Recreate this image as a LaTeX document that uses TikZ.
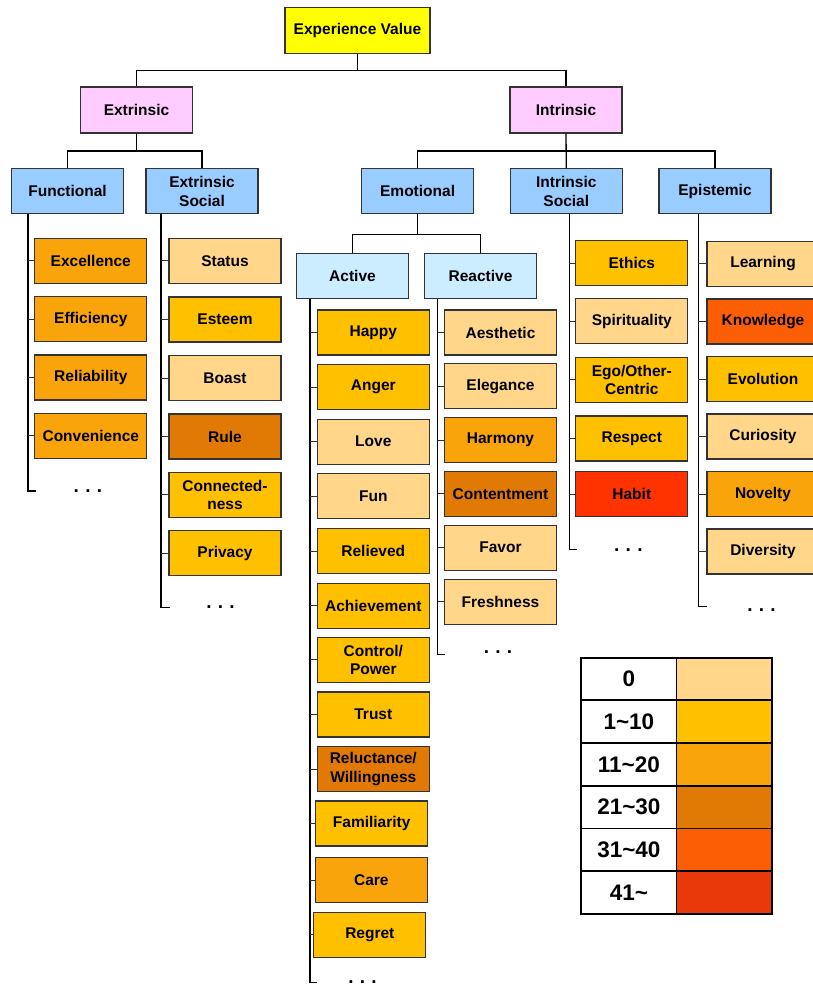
\documentclass[tikz,border=0pt]{standalone}
\usepackage{fontspec}
\setmainfont{Liberation Sans}
\usetikzlibrary{calc}
\definecolor{c0}{HTML}{FFD68A}
\definecolor{c1}{HTML}{FFC000}
\definecolor{c2}{HTML}{F9A40B}
\definecolor{c3}{HTML}{E07A05}
\definecolor{c4}{HTML}{FC5E06}
\definecolor{c5}{HTML}{E9380A}
\definecolor{chabit}{HTML}{FF3300}
\definecolor{cyel}{HTML}{FFFF00}
\definecolor{cpink}{HTML}{FFCCFF}
\definecolor{cblue}{HTML}{99CCFF}
\definecolor{clblue}{HTML}{CCECFF}
\tikzset{
 box/.style={draw=black!80, line width=1.2pt, minimum width=112pt, minimum height=45pt, inner sep=1pt, align=center, font=\bfseries\fontsize{15.5}{18.5}\selectfont},
 conn/.style={line width=1.3pt, draw=black},
 tick/.style={line width=1pt, draw=black!80},
 dotsnode/.style={inner sep=0pt, font=\bfseries\fontsize{19}{20}\selectfont},
 leg/.style={draw=black, line width=1.8pt, minimum width=95.5pt, minimum height=42.7pt, inner sep=0pt, font=\bfseries\fontsize{22.5}{24}\selectfont},
}
\begin{document}
\begin{tikzpicture}[x=1pt,y=-1pt]
\useasboundingbox (0,0) rectangle (813,987);
% top levels
\node[box, fill=cyel, minimum width=145pt, minimum height=46pt] (EV) at (357.5,30.5) {Experience Value};
\node[box, fill=cpink, minimum height=46pt] (Ext) at (136.5,110) {Extrinsic};
\node[box, fill=cpink, minimum height=46pt] (Int) at (566,110) {Intrinsic};
\node[box, fill=cblue] (Func) at (67.6,191.3) {Functional};
\node[box, fill=cblue] (ExS) at (202,191.3) {Extrinsic\\Social};
\node[box, fill=cblue] (Emo) at (417.6,191.3) {Emotional};
\node[box, fill=cblue] (InS) at (566.3,191.3) {Intrinsic\\Social};
\node[box, fill=cblue] (Epi) at (715,191.3) {Epistemic};
\node[box, fill=clblue] (Act) at (352.5,275.8) {Active};
\node[box, fill=clblue] (Rea) at (480.5,275.8) {Reactive};
% connectors of the hierarchy
\draw[conn] (EV.south) -- ++(0,16.5) -| (Ext.north);
\draw[conn] (EV.south) ++(0,16.5) -| (Int.north);
\draw[conn] (Ext.south) -- ++(0,17.5) -| (Func.north);
\draw[conn] (Ext.south) ++(0,17.5) -| (ExS.north);
\draw[conn] (Int.south) -- (InS.north);
\draw[conn] (Int.south) ++(0,17.5) -| (Emo.north);
\draw[conn] (Int.south) ++(0,17.5) -| (Epi.north);
\draw[conn] (Emo.south) -- ++(0,20) -| (Act.north);
\draw[conn] (Emo.south) ++(0,20) -| (Rea.north);
% Functional children
\node[box, fill=c2] (f1) at (90.8,260.8) {Excellence};
\node[box, fill=c2] (f2) at (90.8,319.2) {Efficiency};
\node[box, fill=c2] (f3) at (90.8,377.5) {Reliability};
\node[box, fill=c2] (f4) at (90.8,435.8) {Convenience};
\node[dotsnode] (fd) at (88,491) {.\,\,.\,\,.};
% Extrinsic social children
\node[box, fill=c0] (s1) at (225,260.8) {Status};
\node[box, fill=c1] (s2) at (225,319.5) {Esteem};
\node[box, fill=c0] (s3) at (225,378) {Boast};
\node[box, fill=c3] (s4) at (225,436.5) {Rule};
\node[box, fill=c1] (s5) at (225,494.8) {Connected-\\ness};
\node[box, fill=c1] (s6) at (225,553.3) {Privacy};
\node[dotsnode] (sd) at (220.5,607) {.\,\,.\,\,.};
% Active children
\node[box, fill=c1] (a1) at (373.3,332.5) {Happy};
\node[box, fill=c1] (a2) at (373.3,387) {Anger};
\node[box, fill=c0] (a3) at (373.3,441.7) {Love};
\node[box, fill=c0] (a4) at (373.3,496) {Fun};
\node[box, fill=c1] (a5) at (373.3,551) {Relieved};
\node[box, fill=c1] (a6) at (373.3,605.7) {Achievement};
\node[box, fill=c1] (a7) at (373.3,659.8) {Control/\\Power};
\node[box, fill=c1] (a8) at (373.3,714.5) {Trust};
\node[box, fill=c3] (a9) at (373.3,769.2) {Reluctance/\\Willingness};
\node[box, fill=c1] (a10) at (371.7,823.5) {Familiarity};
\node[box, fill=c2] (a11) at (371.3,880.2) {Care};
\node[box, fill=c1] (a12) at (369.8,934.8) {Regret};
\node[dotsnode] (ad) at (362.5,982) {.\,\,.\,\,.};
% Reactive children
\node[box, fill=c0] (r1) at (500.5,332.5) {Aesthetic};
\node[box, fill=c0] (r2) at (500.5,386.3) {Elegance};
\node[box, fill=c2] (r3) at (500.5,440) {Harmony};
\node[box, fill=c3] (r4) at (500.5,493.7) {Contentment};
\node[box, fill=c0] (r5) at (500.5,547.7) {Favor};
\node[box, fill=c0] (r6) at (500.5,601.7) {Freshness};
\node[dotsnode] (rd) at (498,652) {.\,\,.\,\,.};
% Intrinsic social children
\node[box, fill=c1] (i1) at (631.8,263) {Ethics};
\node[box, fill=c0] (i2) at (631.8,321.3) {Spirituality};
\node[box, fill=c1] (i3) at (631.8,379.8) {Ego/Other-\\Centric};
\node[box, fill=c1] (i4) at (631.8,438.5) {Respect};
\node[box, fill=chabit] (i5) at (631.8,494.2) {Habit};
\node[dotsnode] (id) at (628.3,550) {.\,\,.\,\,.};
% Epistemic children
\node[box, fill=c0] (e1) at (763,263.8) {Learning};
\node[box, fill=c4] (e2) at (763,321.5) {Knowledge};
\node[box, fill=c1] (e3) at (763,379) {Evolution};
\node[box, fill=c0] (e4) at (763,436.5) {Curiosity};
\node[box, fill=c2] (e5) at (763,494) {Novelty};
\node[box, fill=c0] (e6) at (763,551.5) {Diversity};
\node[dotsnode] (ed) at (761.5,610) {.\,\,.\,\,.};
% spines
\coordinate (fx) at (28,0);
\coordinate (sx) at (161,0);
\coordinate (ax) at (310,0);
\coordinate (rx) at (437.7,0);
\coordinate (ix) at (569.3,0);
\coordinate (ex) at (698.3,0);
\coordinate (fend) at (36,491);
\coordinate (send) at (170,607.7);
\coordinate (aend) at (316.7,982.7);
\coordinate (rend) at (445,654.3);
\coordinate (iend) at (577,549.3);
\coordinate (eend) at (706.7,606.7);
\draw[conn] (fx |- Func.south) |- (fend);
\draw[conn] (sx |- ExS.south) |- (send);
\draw[conn] (ax |- Act.south) |- (aend);
\draw[conn] (rx |- Rea.south) |- (rend);
\draw[conn] (ix |- InS.south) |- (iend);
\draw[conn] (ex |- Epi.south) |- (eend);
\foreach \n in {f1,f2,f3,f4} \draw[tick] (fx |- \n.west) -- (\n.west);
\foreach \n in {s1,s2,s3,s4,s5,s6} \draw[tick] (sx |- \n.west) -- (\n.west);
\foreach \n in {a1,a2,a3,a4,a5,a6,a7,a8,a9,a10,a11,a12} \draw[tick] (ax |- \n.west) -- (\n.west);
\foreach \n in {r1,r2,r3,r4,r5,r6} \draw[tick] (rx |- \n.west) -- (\n.west);
\foreach \n in {i1,i2,i3,i4,i5} \draw[tick] (ix |- \n.west) -- (\n.west);
\foreach \n in {e1,e2,e3,e4,e5,e6} \draw[tick] (ex |- \n.west) -- (\n.west);
% legend
\node[leg, fill=white] (L0) at (628.9,679) {0};
\node[leg, fill=c0] (C0) at (724.2,679) {};
\node[leg, fill=white] (L1) at (628.9,721.7) {1\textasciitilde10};
\node[leg, fill=c1] (C1) at (724.2,721.7) {};
\node[leg, fill=white] (L2) at (628.9,764.4) {11\textasciitilde20};
\node[leg, fill=c2] (C2) at (724.2,764.4) {};
\node[leg, fill=white] (L3) at (628.9,807.1) {21\textasciitilde30};
\node[leg, fill=c3] (C3) at (724.2,807.1) {};
\node[leg, fill=white] (L4) at (628.9,849.8) {31\textasciitilde40};
\node[leg, fill=c4] (C4) at (724.2,849.8) {};
\node[leg, fill=white] (L5) at (628.9,892.5) {41\textasciitilde};
\node[leg, fill=c5] (C5) at (724.2,892.5) {};
\end{tikzpicture}
\end{document}
